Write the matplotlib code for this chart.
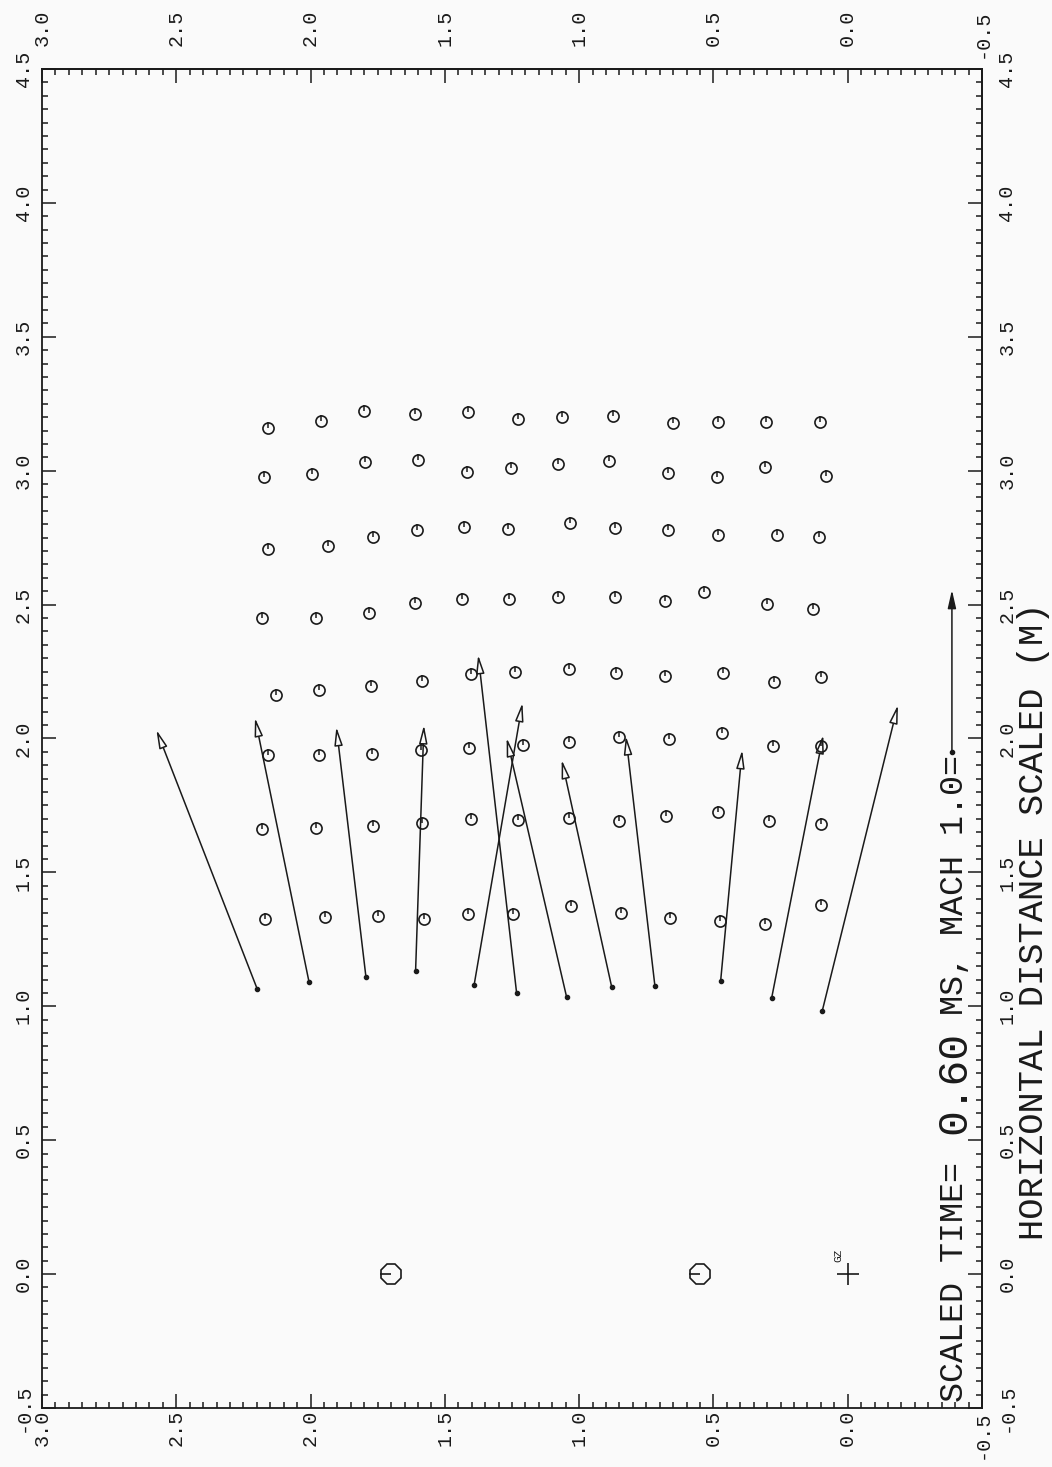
import numpy as np
import matplotlib
matplotlib.use("Agg")
import matplotlib.pyplot as plt
from matplotlib.patches import FancyArrowPatch
from matplotlib.path import Path
from matplotlib.ticker import FixedLocator, FormatStrFormatter

# ---------------- data (scaled metres) ----------------
# V = vertical distance scaled, H = horizontal distance scaled
row1_v = [2.157, 1.961, 1.801, 1.610, 1.415, 1.229, 1.065, 0.873, 0.650, 0.482, 0.305, 0.104]
row1_h = [3.158, 3.186, 3.224, 3.211, 3.219, 3.194, 3.199, 3.205, 3.177, 3.183, 3.183, 3.183]
row2_v = [2.172, 1.994, 1.797, 1.599, 1.418, 1.255, 1.080, 0.888, 0.668, 0.488, 0.308, 0.079]
row2_h = [2.975, 2.987, 3.034, 3.040, 2.994, 3.009, 3.025, 3.036, 2.990, 2.978, 3.015, 2.981]
row3_v = [2.160, 1.936, 1.767, 1.604, 1.428, 1.264, 1.034, 0.867, 0.670, 0.484, 0.262, 0.106]
row3_h = [2.708, 2.719, 2.752, 2.777, 2.790, 2.783, 2.804, 2.785, 2.777, 2.759, 2.760, 2.751]
row4_v = [2.182, 1.981, 1.781, 1.610, 1.435, 1.260, 1.078, 0.867, 0.681, 0.534, 0.302, 0.128]
row4_h = [2.449, 2.450, 2.467, 2.505, 2.520, 2.522, 2.530, 2.530, 2.513, 2.546, 2.501, 2.484]
row5_v = [2.129, 1.969, 1.776, 1.586, 1.403, 1.239, 1.038, 0.863, 0.681, 0.464, 0.274, 0.100]
row5_h = [2.161, 2.181, 2.196, 2.215, 2.240, 2.249, 2.260, 2.246, 2.235, 2.243, 2.211, 2.229]
row6_v = [2.157, 1.968, 1.770, 1.589, 1.409, 1.210, 1.038, 0.852, 0.665, 0.469, 0.277, 0.100]
row6_h = [1.938, 1.938, 1.941, 1.957, 1.963, 1.976, 1.986, 2.004, 1.997, 2.019, 1.973, 1.973]
row7_v = [2.182, 1.980, 1.769, 1.586, 1.403, 1.227, 1.038, 0.852, 0.677, 0.482, 0.292, 0.100]
row7_h = [1.661, 1.667, 1.674, 1.683, 1.699, 1.696, 1.702, 1.693, 1.712, 1.724, 1.693, 1.680]
row8_v = [2.170, 1.946, 1.748, 1.577, 1.413, 1.245, 1.032, 0.846, 0.662, 0.476, 0.308, 0.100]
row8_h = [1.326, 1.335, 1.338, 1.326, 1.344, 1.344, 1.375, 1.350, 1.329, 1.319, 1.306, 1.378]

# velocity vectors (tail -> tip)
tail_v = [2.198, 2.006, 1.794, 1.609, 1.391, 1.233, 1.047, 0.879, 0.718, 0.473, 0.283, 0.095]
tail_h = [1.063, 1.092, 1.111, 1.132, 1.080, 1.051, 1.036, 1.073, 1.077, 1.096, 1.032, 0.982]
tip_v = [2.574, 2.207, 1.904, 1.578, 1.211, 1.376, 1.270, 1.065, 0.826, 0.393, 0.091, -0.187]
tip_h = [2.032, 2.077, 2.043, 2.050, 2.133, 2.312, 2.002, 1.920, 2.009, 1.957, 2.013, 2.125]

# gauges and ground zero
gauge_v = [1.701, 0.550]
gauge_h = [0.0, 0.0]
gz_v = [0.0]
gz_h = [0.0]

# Mach 1.0 reference vector
mach_v = -0.388
mach_h0 = 1.950
mach_h1 = 2.555

v_lim = (3.0, -0.5)
h_lim = (-0.5, 4.5)
v_major = [-0.5, 0.0, 0.5, 1.0, 1.5, 2.0, 2.5, 3.0]
h_major = [-0.5, 0.0, 0.5, 1.0, 1.5, 2.0, 2.5, 3.0, 3.5, 4.0, 4.5]
minor_step = 0.05
title_small1 = "SCALED TIME="
title_big = "0.60"
title_small2 = "MS, MACH 1.0="
axis_label = "HORIZONTAL DISTANCE SCALED (M)"

# ---------------- figure ----------------
INK = "#1a1a1a"
BG = "#fafafa"
FONT = "Liberation Mono"
plt.rcParams["font.family"] = [FONT, "DejaVu Sans Mono"]

fig = plt.figure(figsize=(10.52, 14.67), dpi=100, facecolor=BG)
L, R, T, B = 42, 982, 69, 1408
W, Hh = 1052, 1467
ax = fig.add_axes([L / W, 1 - B / Hh, (R - L) / W, (B - T) / Hh], facecolor=BG)
ax.set_xlim(*v_lim)
ax.set_ylim(*h_lim)
for s in ax.spines.values():
    s.set_color(INK)
    s.set_linewidth(1.3)

rows_v = [row1_v, row2_v, row3_v, row4_v, row5_v, row6_v, row7_v, row8_v]
rows_h = [row1_h, row2_h, row3_h, row4_h, row5_h, row6_h, row7_h, row8_h]
tick_path = Path([(0, 0), (0, 1)], [Path.MOVETO, Path.LINETO])
for rv, rh in zip(rows_v, rows_h):
    ax.plot(rv, rh, ls="none", marker="o", ms=8, mfc="none", mec=INK, mew=1.2)
    ax.plot(rv, rh, ls="none", marker=tick_path, ms=8, mec=INK, mew=1.1)

for tv, th, pv, ph in zip(tail_v, tail_h, tip_v, tip_h):
    ax.add_patch(FancyArrowPatch((tv, th), (pv, ph),
                                 arrowstyle="-|>,head_length=1.1,head_width=0.25",
                                 mutation_scale=10, fc=BG, ec=INK, lw=1.1,
                                 shrinkA=0, shrinkB=0))
ax.plot(tail_v, tail_h, ls="none", marker="o", ms=3, color=INK)

# gauges
half_line = Path([(-1, 0), (0, 0)], [Path.MOVETO, Path.LINETO])
ax.plot(gauge_v, gauge_h, ls="none", marker="8", ms=16, mfc="none", mec=INK, mew=1.2)
ax.plot(gauge_v, gauge_h, ls="none", marker=half_line, ms=16, mec=INK, mew=1.2)
ax.plot(gz_v, gz_h, ls="none", marker="+", ms=16, mec=INK, mew=1.2)
ax.text(gz_v[0] + 0.035, gz_h[0] + 0.07, "GZ", rotation=90, fontsize=8,
        ha="center", va="center", color=INK)

# Mach reference arrow
ax.add_patch(FancyArrowPatch((mach_v, mach_h0), (mach_v, mach_h1),
                             arrowstyle="-|>,head_length=1.1,head_width=0.25",
                             mutation_scale=10, fc=INK, ec=INK, lw=1.1,
                             shrinkA=0, shrinkB=0))
ax.plot([mach_v], [mach_h0], ls="none", marker="o", ms=3, color=INK)

# title inside the frame (rotated)
tkw = dict(rotation=90, rotation_mode="anchor", ha="left", va="center", color=INK)
ax.text(-0.399, -0.478, title_small1, fontsize=24, **tkw)
ax.text(-0.399, 0.525, title_big, fontsize=31, **tkw)
ax.text(-0.399, 0.968, title_small2, fontsize=24, **tkw)
ax.text(-0.690, 0.127, axis_label, fontsize=25.5, clip_on=False, **tkw)

# ---------------- ticks ----------------
LS = 14.5
v_minor = np.round(np.arange(v_lim[1], v_lim[0] + 1e-9, minor_step), 3)
h_minor = np.round(np.arange(h_lim[0], h_lim[1] + 1e-9, minor_step), 3)


def setup_ticks(axis, major, minor):
    axis.set_major_locator(FixedLocator(major))
    axis.set_minor_locator(FixedLocator(minor))
    axis.set_major_formatter(FormatStrFormatter("%.1f"))


setup_ticks(ax.xaxis, v_major, v_minor)
setup_ticks(ax.yaxis, h_major, h_minor)

ax.tick_params(which="both", direction="in", colors=INK, top=False, right=False,
               labelsize=LS, width=1.1)
ax.tick_params(which="major", length=10)
ax.tick_params(which="minor", length=4.5)
ax.tick_params(axis="x", which="major", pad=1.5, labelrotation=90)
ax.tick_params(axis="y", which="major", pad=6.5, labelrotation=90)
for lab in ax.get_xticklabels():
    lab.set_va("top")
for lab in ax.get_yticklabels():
    lab.set_va("center")
    lab.set_ha("right")

ident = (lambda x: x, lambda x: x)
secx = ax.secondary_xaxis("top", functions=ident)
secy = ax.secondary_yaxis("right", functions=ident)
setup_ticks(secx.xaxis, v_major, v_minor)
setup_ticks(secy.yaxis, h_major, h_minor)
for sec in (secx, secy):
    sec.tick_params(which="both", direction="in", colors=INK, labelsize=LS, width=1.1)
    sec.tick_params(which="major", length=10)
    sec.tick_params(which="minor", length=4.5)
    for s in sec.spines.values():
        s.set_color(INK)
        s.set_linewidth(1.3)
secx.tick_params(which="major", pad=42.5, labelrotation=90)
secy.tick_params(which="major", pad=11, labelrotation=90)
fig.canvas.draw()
for lab in secx.get_xticklabels():
    lab.set_va("top")
for lab in secy.get_yticklabels():
    lab.set_va("center")
    lab.set_ha("left")

fig.savefig("out.png", dpi=100, facecolor=BG)
